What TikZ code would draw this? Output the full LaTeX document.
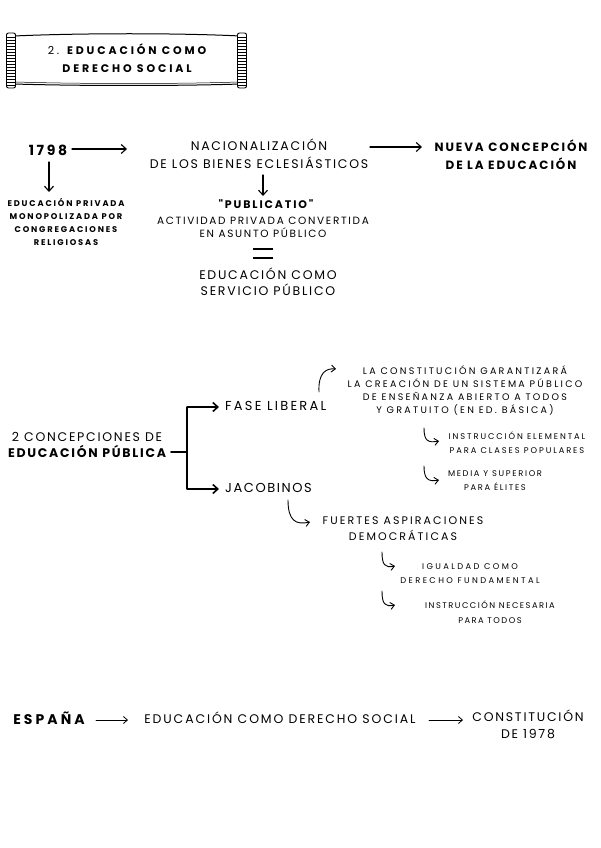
\documentclass[tikz,border=0pt]{standalone}
\usepackage{fontspec}
\setmainfont{Poppins}
\newcommand{\hfnt}[3]{\fontspec{Poppins}[LetterSpace=#3]\fontsize{#1}{#2}\selectfont}
\usetikzlibrary{arrows.meta}
\tikzset{
  txt/.style={inner sep=0pt, align=center},
  arr/.style={-{Straight Barb[length=5pt,width=9pt]}, line width=1.1pt, line cap=round},
  thinarr/.style={-{Straight Barb[length=4pt,width=7pt]}, line width=0.8pt, line cap=round},
  brk/.style={line width=1.6pt, line cap=round},
  brkarr/.style={-{Straight Barb[length=5pt,width=9pt]}, line width=1.6pt},
  hook/.style={-{Straight Barb[length=4pt,width=7pt]}, line width=0.9pt, line cap=round},
  eqbar/.style={line width=2pt},
}
\begin{document}
\begin{tikzpicture}[x=1pt,y=-1pt]
\useasboundingbox (0,0) rectangle (600,848);
\fill[white] (0,0) rectangle (600,848);

% ---------- banner ----------
\draw[line width=1pt] (14,36) .. controls (80,33) and (180,33) .. (240,36)
  -- (240,84) .. controls (180,86) and (80,86) .. (14,84) -- cycle;
\draw[line width=0.5pt] (16,82) .. controls (80,84) and (180,84) .. (238,82);
\foreach \xx in {11,242}{
  \draw[line width=0.9pt, fill=white, rounded corners=2pt] (\xx-4.5,33) rectangle (\xx+4.5,88);
  \foreach \yy in {37,40,...,85}{\draw[line width=0.5pt] (\xx-4,\yy) -- (\xx+4,\yy);}
}
\node[txt, font=\hfnt{11}{18}{26}] (title) at (127,58)
  {2. {\bfseries EDUCACIÓN COMO}\\ \bfseries DERECHO SOCIAL};

% ---------- section 1 ----------
\node[txt, font=\hfnt{14}{17}{19}\bfseries] (y1798) at (48,150) {1798};
\node[txt, font=\hfnt{12.5}{18}{14}] (nac) at (259,154) {NACIONALIZACIÓN\\DE LOS BIENES ECLESIÁSTICOS};
\node[txt, font=\hfnt{12}{18}{16}\bfseries] (nueva) at (511,155) {NUEVA CONCEPCIÓN\\DE LA EDUCACIÓN};
\node[txt, font=\hfnt{8.3}{13}{22}\bfseries] (priv) at (66,221.5) {EDUCACIÓN PRIVADA\\MONOPOLIZADA POR\\CONGREGACIONES\\RELIGIOSAS};
\node[txt, font=\hfnt{11}{15}{17}\bfseries] (pub) at (266,204) {"PUBLICATIO"};
\node[txt, font=\hfnt{10.5}{13}{16}] (act) at (263,227.5) {ACTIVIDAD PRIVADA CONVERTIDA\\EN ASUNTO PÚBLICO};
\coordinate (eq) at (263,253.5);
\draw[eqbar] ([xshift=-10pt,yshift=-4.5pt]eq) -- ([xshift=10pt,yshift=-4.5pt]eq);
\draw[eqbar] ([xshift=-10pt,yshift=4.5pt]eq) -- ([xshift=10pt,yshift=4.5pt]eq);
\node[txt, font=\hfnt{12.5}{16}{14}] (serv) at (268,282) {EDUCACIÓN COMO\\SERVICIO PÚBLICO};

\coordinate (a1s) at (72,149);   \coordinate (a1e) at (127,149);
\coordinate (a2s) at (370,147);  \coordinate (a2e) at (422,147);
\coordinate (a3s) at (49,162);   \coordinate (a3e) at (49,192);
\coordinate (a4s) at (263,175);  \coordinate (a4e) at (263,196);
\draw[arr] (a1s) -- (a1e);
\draw[arr] (a2s) -- (a2e);
\draw[arr] (a3s) -- (a3e);
\draw[arr] (a4s) -- (a4e);

% ---------- section 2 ----------
\node[txt, font=\hfnt{12.5}{16}{14}] (conc) at (87,445)
  {2 CONCEPCIONES DE\\ \bfseries EDUCACIÓN PÚBLICA};
\node[txt, font=\hfnt{13}{17}{17}, anchor=west] (fase) at (225,406) {FASE LIBERAL};
\node[txt, font=\hfnt{13}{17}{12}, anchor=west] (jac) at (225,488) {JACOBINOS};
\node[txt, font=\hfnt{9.5}{13}{24}] (const) at (465,390.5) {LA CONSTITUCIÓN GARANTIZARÁ\\LA CREACIÓN DE UN SISTEMA PÚBLICO\\DE ENSEÑANZA ABIERTO A TODOS\\Y GRATUITO (EN ED. BÁSICA)};
\node[txt, font=\hfnt{8.3}{14}{23}] (instr) at (517,443) {INSTRUCCIÓN ELEMENTAL\\PARA CLASES POPULARES};
\node[txt, font=\hfnt{8.3}{14}{20}] (media) at (495,481) {MEDIA Y SUPERIOR\\PARA ÉLITES};
\node[txt, font=\hfnt{11}{16}{19}] (fuer) at (403,529) {FUERTES ASPIRACIONES\\DEMOCRÁTICAS};
\node[txt, font=\hfnt{8.3}{14}{29}] (igual) at (470,574) {IGUALDAD COMO\\DERECHO FUNDAMENTAL};
\node[txt, font=\hfnt{8.3}{15}{18}] (nec) at (490,612.5) {INSTRUCCIÓN NECESARIA\\PARA TODOS};

\coordinate (bk0) at (171,452);
\coordinate (bk1) at (187,452);
\coordinate (bkt) at (187,407);
\coordinate (bkb) at (187,489);
\draw[brk] (bk0) -- (bk1);
\draw[brk] (bkt) -- (bkb);
\draw[brkarr] (bkt) -- ([xshift=-6pt]fase.west |- bkt);
\draw[brkarr] (bkb) -- ([xshift=-6pt]jac.west |- bkb);

% curved arrow up to the constitution
\coordinate (c0) at (319,392); \coordinate (c1) at (336,369);
\draw[hook] (c0) .. controls (318,373) and (326,368) .. (c1);
% hooks
\coordinate (h1s) at (424,428); \coordinate (h1e) at (439,441);
\coordinate (h2s) at (424,466); \coordinate (h2e) at (439,480);
\coordinate (h3s) at (288,500); \coordinate (h3e) at (310,522);
\coordinate (h4s) at (382,552); \coordinate (h4e) at (395,566);
\coordinate (h5s) at (382,591); \coordinate (h5e) at (395,605);
\draw[hook] (h1s) .. controls (424,441) and (428,443) .. (h1e);
\draw[hook] (h2s) .. controls (424,479) and (428,482) .. (h2e);
\draw[hook] (h3s) .. controls (288,521) and (296,525) .. (h3e);
\draw[hook] (h4s) .. controls (382,565) and (385,568) .. (h4e);
\draw[hook] (h5s) .. controls (382,604) and (385,607) .. (h5e);

% ---------- section 3 ----------
\node[txt, font=\hfnt{14}{17}{22}\bfseries] (esp) at (49,718) {ESPAÑA};
\node[txt, font=\hfnt{12.5}{17}{15}] (eds) at (280,718) {EDUCACIÓN COMO DERECHO SOCIAL};
\node[txt, font=\hfnt{12.5}{17}{14}] (con78) at (528,724.5) {CONSTITUCIÓN\\DE 1978};
\coordinate (b1s) at (96,720);  \coordinate (b1e) at (128,720);
\coordinate (b2s) at (429,720); \coordinate (b2e) at (463,720);
\draw[thinarr] (b1s) -- (b1e);
\draw[thinarr] (b2s) -- (b2e);
\end{tikzpicture}
\end{document}
